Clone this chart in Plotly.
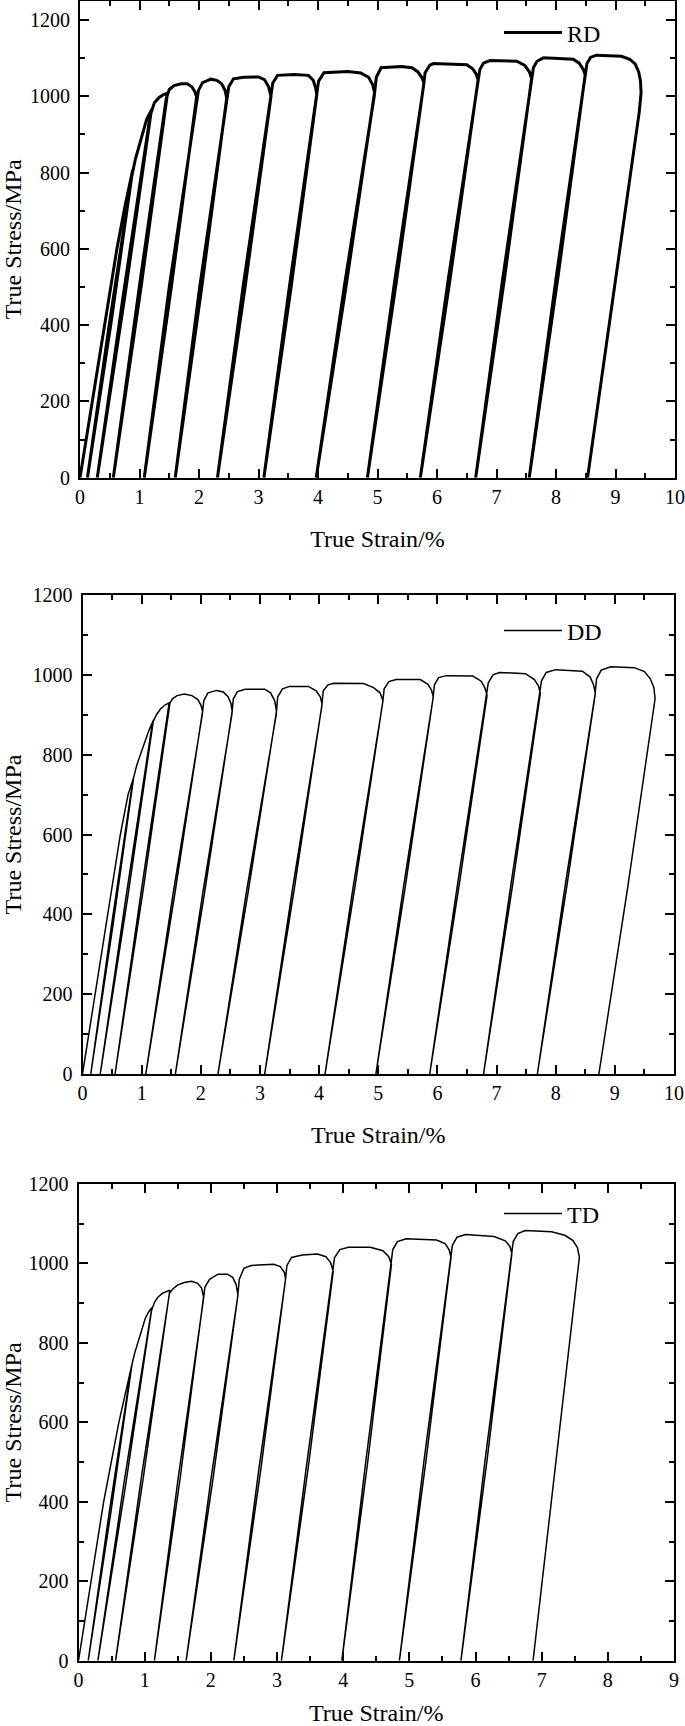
import plotly.graph_objects as go

FONT = "Liberation Serif, Times New Roman, serif"

# ---------------- data (strain %, stress MPa) ----------------
# RD: loading / unloading path, vertices in drawing order
rd_points = [
    (0, 0), (0.22, 215), (0.45, 440), (0.62, 600), (0.76, 715), (0.885, 807),
    (0.52, 404), (0.125, 0),
    (0.49, 400), (0.87, 790), (0.93, 835), (0.98, 862), (1.05, 905), (1.12, 940), (1.2, 964),
    (0.76, 482), (0.29, 0),
    (0.73, 482), (1.18, 950), (1.25, 983), (1.33, 997), (1.41, 1005), (1.47, 1008),
    (1.03, 504), (0.56, 0),
    (1.0, 504), (1.45, 995), (1.5, 1018), (1.58, 1028), (1.7, 1033), (1.8, 1033), (1.88, 1025), (1.93, 1012), (1.96, 999),
    (1.535, 500), (1.08, 0),
    (1.5, 500), (1.955, 985), (1.99, 1015), (2.06, 1036), (2.2, 1045), (2.3, 1042), (2.38, 1033), (2.44, 1015), (2.465, 995),
    (2.045, 498), (1.6, 0),
    (2.01, 498), (2.46, 985), (2.5, 1025), (2.58, 1046), (2.75, 1050), (3.0, 1051), (3.1, 1044), (3.17, 1025), (3.21, 1000),
    (2.775, 500), (2.31, 0),
    (2.74, 500), (3.2, 990), (3.24, 1035), (3.32, 1055), (3.6, 1057), (3.84, 1055), (3.92, 1042), (3.96, 1022), (3.98, 1005),
    (3.55, 502), (3.09, 0),
    (3.52, 502), (3.975, 995), (4.01, 1040), (4.1, 1062), (4.5, 1065), (4.72, 1061), (4.85, 1050), (4.92, 1030), (4.95, 1010),
    (4.475, 505), (3.97, 0),
    (4.445, 505), (4.945, 1000), (4.98, 1050), (5.06, 1075), (5.4, 1078), (5.58, 1075), (5.68, 1064), (5.75, 1048), (5.78, 1035),
    (5.32, 517), (4.83, 0),
    (5.29, 517), (5.775, 1028), (5.8, 1062), (5.88, 1082), (5.94, 1086), (6.5, 1083), (6.6, 1072), (6.66, 1058), (6.69, 1043),
    (6.22, 521), (5.72, 0),
    (6.19, 521), (6.685, 1035), (6.72, 1070), (6.78, 1087), (6.89, 1094), (7.34, 1092), (7.47, 1082), (7.55, 1065), (7.59, 1047),
    (7.135, 523), (6.65, 0),
    (7.105, 523), (7.585, 1040), (7.62, 1075), (7.68, 1092), (7.79, 1101), (8.29, 1097), (8.39, 1087), (8.46, 1070), (8.49, 1056),
    (8.035, 528), (7.55, 0),
    (8.005, 528), (8.485, 1050), (8.52, 1086), (8.58, 1102), (8.68, 1108), (9.1, 1105), (9.24, 1097), (9.33, 1085), (9.39, 1064),
    (9.42, 1040), (9.43, 1010), (9.40, 960), (9.31, 860), (8.92, 430), (8.53, 0),
]

# DD
dd_points = [
    (0, 0), (0.21, 200), (0.42, 400), (0.64, 600), (0.77, 700), (0.865, 743),
    (0.515, 372), (0.14, 0),
    (0.49, 372), (0.85, 735), (0.92, 775), (0.98, 800), (1.05, 830), (1.12, 860), (1.2, 887),
    (0.765, 443), (0.30, 0),
    (0.735, 443), (1.18, 878), (1.25, 900), (1.32, 915), (1.40, 925), (1.48, 931),
    (1.03, 465), (0.55, 0),
    (1.0, 465), (1.46, 925), (1.52, 940), (1.6, 948), (1.72, 952), (1.85, 948), (1.95, 938), (2.0, 925), (2.03, 909),
    (1.565, 455), (1.07, 0),
    (1.535, 455), (2.025, 900), (2.05, 935), (2.12, 955), (2.27, 961), (2.38, 957), (2.46, 945), (2.51, 928), (2.53, 909),
    (2.065, 455), (1.57, 0),
    (2.035, 455), (2.525, 900), (2.55, 940), (2.62, 958), (2.75, 964), (3.08, 964), (3.18, 955), (3.25, 935), (3.28, 909),
    (2.80, 455), (2.29, 0),
    (2.77, 455), (3.275, 900), (3.3, 945), (3.38, 965), (3.5, 971), (3.82, 971), (3.95, 960), (4.02, 945), (4.05, 927),
    (3.58, 463), (3.08, 0),
    (3.55, 463), (4.045, 920), (4.07, 960), (4.15, 975), (4.25, 979), (4.75, 978), (4.92, 968), (5.03, 955), (5.08, 936),
    (4.605, 468), (4.1, 0),
    (4.575, 468), (5.075, 930), (5.1, 965), (5.18, 983), (5.3, 988), (5.71, 988), (5.84, 976), (5.9, 962), (5.93, 945),
    (5.46, 472), (4.96, 0),
    (5.43, 472), (5.925, 940), (5.95, 975), (6.02, 993), (6.15, 998), (6.6, 997), (6.74, 984), (6.8, 968), (6.84, 949),
    (6.37, 475), (5.87, 0),
    (6.34, 475), (6.835, 945), (6.86, 980), (6.94, 1000), (7.05, 1006), (7.49, 1003), (7.64, 988), (7.71, 972), (7.74, 954),
    (7.275, 477), (6.78, 0),
    (7.245, 477), (7.735, 950), (7.76, 985), (7.84, 1006), (8.0, 1013), (8.45, 1009), (8.58, 995), (8.64, 975), (8.67, 954),
    (8.195, 477), (7.69, 0),
    (8.165, 477), (8.665, 950), (8.69, 990), (8.77, 1012), (8.93, 1020), (9.33, 1018), (9.5, 1008), (9.6, 990), (9.66, 968),
    (9.68, 940), (9.22, 470), (8.73, 0),
]

# TD
td_points = [
    (0, 0), (0.19, 200), (0.38, 400), (0.61, 600), (0.74, 700), (0.81, 748),
    (0.49, 374), (0.147, 0),
    (0.465, 374), (0.80, 740), (0.85, 775), (0.89, 798), (0.95, 832), (1.01, 862), (1.06, 878), (1.11, 889),
    (0.715, 445), (0.293, 0),
    (0.685, 445), (1.10, 880), (1.15, 903), (1.2, 915), (1.27, 925), (1.33, 930), (1.38, 933),
    (0.985, 467), (0.56, 0),
    (0.955, 467), (1.375, 925), (1.42, 935), (1.5, 946), (1.6, 952), (1.71, 955), (1.8, 950), (1.86, 938), (1.89, 916),
    (1.535, 458), (1.147, 0),
    (1.505, 458), (1.885, 905), (1.91, 940), (1.98, 960), (2.11, 973), (2.25, 973), (2.33, 965), (2.38, 948), (2.41, 921),
    (2.035, 460), (1.627, 0),
    (2.005, 460), (2.405, 915), (2.43, 960), (2.5, 988), (2.61, 995), (2.95, 998), (3.05, 992), (3.11, 978), (3.13, 962),
    (2.755, 481), (2.347, 0),
    (2.725, 481), (3.125, 955), (3.15, 995), (3.22, 1015), (3.38, 1021), (3.61, 1024), (3.74, 1017), (3.81, 1002), (3.85, 980),
    (3.475, 490), (3.067, 0),
    (3.445, 490), (3.845, 972), (3.87, 1015), (3.95, 1035), (4.08, 1041), (4.41, 1041), (4.6, 1032), (4.69, 1017), (4.73, 998),
    (4.37, 499), (3.98, 0),
    (4.34, 499), (4.725, 990), (4.75, 1035), (4.82, 1055), (4.95, 1062), (5.41, 1059), (5.54, 1050), (5.6, 1035), (5.63, 1016),
    (5.255, 508), (4.85, 0),
    (5.225, 508), (5.625, 1008), (5.65, 1045), (5.72, 1066), (5.85, 1073), (6.28, 1068), (6.45, 1057), (6.52, 1043), (6.55, 1025),
    (6.18, 512), (5.78, 0),
    (6.15, 512), (6.545, 1018), (6.57, 1055), (6.64, 1075), (6.75, 1083), (7.15, 1080), (7.35, 1071), (7.47, 1058), (7.54, 1040),
    (7.57, 1016), (7.22, 508), (6.87, 0),
]

series_names = ["RD", "DD", "TD"]
x_max = [10, 10, 9]
y_max = [1250, 1200, 1200]
line_widths = [3, 1.5, 1.5]
x_tick_vals = [list(range(0, 11)), list(range(0, 11)), list(range(0, 10))]
y_tick_vals = [0, 200, 400, 600, 800, 1000, 1200]

# ---------------- layout geometry (pixels of the 685x1726 page) ----------------
W, H = 685, 1726
panels_px = [  # left, right, top, bottom of each plot frame
    (80, 675, 1, 477.7),
    (82.5, 674, 595, 1074),
    (78.5, 674, 1184, 1660.7),
]
legend_px = [(499, 33), (499, 631), (499, 1214)]

fig = go.Figure()
for i, (name, pts) in enumerate(zip(series_names, [rd_points, dd_points, td_points])):
    sfx = "" if i == 0 else str(i + 1)
    fig.add_trace(go.Scatter(
        x=[p[0] for p in pts], y=[p[1] for p in pts],
        mode="lines", name=name,
        line=dict(color="black", width=line_widths[i]),
        xaxis="x" + sfx, yaxis="y" + sfx,
        legend="legend" + sfx, showlegend=True,
    ))

tick_font = dict(family=FONT, size=20, color="black")
title_font = dict(family=FONT, size=24, color="black")

axis_common = dict(
    showline=True, linecolor="black", linewidth=2, mirror="ticks",
    ticks="inside", ticklen=9, tickwidth=2, tickcolor="black",
    showgrid=False, zeroline=False, automargin=False,
    tickfont=tick_font,
)

layout = dict(
    width=W, height=H,
    margin=dict(l=0, r=0, t=0, b=0, autoexpand=False),
    paper_bgcolor="white", plot_bgcolor="white",
    font=dict(family=FONT, color="black"),
)
for i in range(3):
    sfx = "" if i == 0 else str(i + 1)
    l, r, t, b = panels_px[i]
    layout["xaxis" + sfx] = dict(
        axis_common,
        domain=[l / W, r / W], anchor="y" + sfx,
        range=[0, x_max[i]], tickmode="array", tickvals=x_tick_vals[i],
        minor=dict(ticks="inside", ticklen=5, tickwidth=2, tickcolor="black", dtick=0.5, showgrid=False),
        title=dict(text="True Strain/%", standoff=23, font=title_font),
    )
    layout["yaxis" + sfx] = dict(
        axis_common,
        domain=[1 - b / H, 1 - t / H], anchor="x" + sfx,
        range=[0, y_max[i]], tickmode="array", tickvals=y_tick_vals,
        minor=dict(ticks="inside", ticklen=5, tickwidth=2, tickcolor="black", dtick=100, showgrid=False),
        ticklabelstandoff=4,
        title=dict(text="True Stress/MPa", standoff=8, font=title_font),
    )
    lx, ly = legend_px[i]
    layout["legend" + sfx] = dict(
        x=lx / W, y=1 - ly / H, xanchor="left", yanchor="middle",
        bgcolor="rgba(0,0,0,0)", borderwidth=0,
        font=dict(family=FONT, size=24, color="black"),
        itemwidth=58,
    )

fig.update_layout(**layout)
fig.write_html(
    "out.html",
    config={"displayModeBar": False},
    post_script="document.body.style.margin='0px';document.body.style.padding='0px';document.body.style.overflow='hidden';",
)
